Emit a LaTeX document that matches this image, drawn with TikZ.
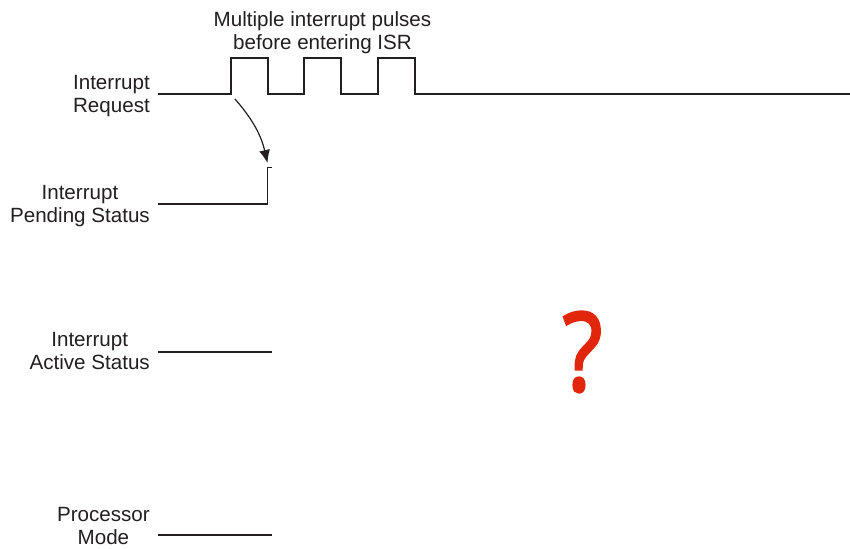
\documentclass[tikz,border=0pt]{standalone}
\usepackage{fontspec}
\setmainfont{Liberation Sans}
\newfontfamily\qmfont[FakeBold=2.6]{Open Sans}
\usetikzlibrary{arrows.meta}
\definecolor{inkc}{HTML}{231F20}
\definecolor{qred}{RGB}{226,38,12}
\begin{document}
\begin{tikzpicture}[x=1pt,y=-1pt,
  lbl/.style={align=center,inner sep=0pt,text=inkc,font=\fontsize{20.6}{23}\selectfont},
  sig/.style={draw=inkc,line width=1.2pt,line join=miter},
  arr/.style={draw=inkc,line width=1.2pt,-{Latex[length=13pt,width=11pt]}}]
\useasboundingbox (0,0) rectangle (850,548);
% labels
\node[lbl] (title) at (322.5,33) {Multiple interrupt pulses\\before entering ISR};
\node[lbl,anchor=east] (lreq) at (150,96.3) {Interrupt\\Request};
\node[lbl,anchor=east] (lpend) at (150,206.3) {Interrupt\\Pending Status};
\node[lbl,anchor=east] (lact) at (150,351.2) {Interrupt\\Active Status};
\node[lbl,anchor=east] (lproc) at (150,526) {Processor\\Mode};
% interrupt request waveform
\path[sig] (158,94) -- (231,94) -- (231,58) -- (268,58) -- (268,94)
  -- (304,94) -- (304,58) -- (341,58) -- (341,94)
  -- (378,94) -- (378,58) -- (415,58) -- (415,94) -- (850,94);
% pending status waveform
\path[sig] (158,204) -- (267.5,204) -- (267.5,167.5) -- (271.5,167.5);
% active status
\path[sig] (158,352) -- (272,352);
% processor mode
\path[sig] (158,535) -- (272,535);
% arrow
\coordinate (arrS) at (235,99);
\coordinate (arrE) at (267.5,163);
\draw[arr] (arrS) to[bend left=14] (arrE);
% question mark
\node[inner sep=0pt,text=qred,font=\qmfont\fontsize{109}{109}\selectfont,xscale=0.84] (qm) at (582.5,352) {?};
\end{tikzpicture}
\end{document}
